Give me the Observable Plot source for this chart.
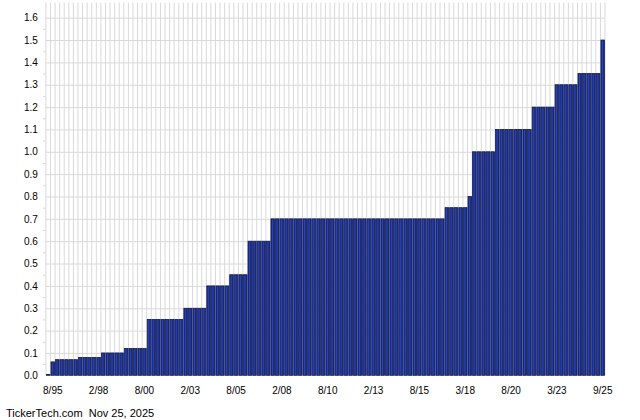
<!DOCTYPE html>
<html>
<head>
<meta charset="utf-8">
<script src="https://cdn.jsdelivr.net/npm/d3@7"></script>
<script src="https://cdn.jsdelivr.net/npm/@observablehq/plot@0.6"></script>
<style>
  html, body { margin: 0; padding: 0; background: #fff; }
  #chart svg { display: block; }
  #footer { font-family: "Liberation Sans", Arial, sans-serif; font-size: 11px; color: #000; padding-left: 6px; margin-top: 7px; white-space: pre; }
</style>
</head>
<body>
<div id="chart"></div>
<div id="footer">TickerTech.com  Nov 25, 2025</div>
<script>
// Quarterly dividend per share, 1995Q2 .. 2025Q3 (122 quarters)
const firstYear = 1995, firstQuarter = 2, quarterCount = 122;
const quarters = d3.range(quarterCount).map(i => {
  const k = (firstQuarter - 1) + i;
  return `${firstYear + Math.floor(k / 4)}Q${(k % 4) + 1}`;
});

const dividends = [
  0.004, 0.06, 0.07, 0.07,                 // 1995Q2 - 1996Q1
  0.07, 0.07, 0.07, 0.08,                  // 1996Q2 - 1997Q1
  0.08, 0.08, 0.08, 0.08,                  // 1997Q2 - 1998Q1
  0.10, 0.10, 0.10, 0.10,                  // 1998Q2 - 1999Q1
  0.10, 0.12, 0.12, 0.12,                  // 1999Q2 - 2000Q1
  0.12, 0.12, 0.25, 0.25,                  // 2000Q2 - 2001Q1
  0.25, 0.25, 0.25, 0.25,                  // 2001Q2 - 2002Q1
  0.25, 0.25, 0.30, 0.30,                  // 2002Q2 - 2003Q1
  0.30, 0.30, 0.30, 0.40,                  // 2003Q2 - 2004Q1
  0.40, 0.40, 0.40, 0.40,                  // 2004Q2 - 2005Q1
  0.45, 0.45, 0.45, 0.45,                  // 2005Q2 - 2006Q1
  0.60, 0.60, 0.60, 0.60,                  // 2006Q2 - 2007Q1
  0.60, 0.70, 0.70, 0.70,                  // 2007Q2 - 2008Q1
  0.70, 0.70, 0.70, 0.70,                  // 2008Q2 - 2009Q1
  0.70, 0.70, 0.70, 0.70,                  // 2009Q2 - 2010Q1
  0.70, 0.70, 0.70, 0.70,                  // 2010Q2 - 2011Q1
  0.70, 0.70, 0.70, 0.70,                  // 2011Q2 - 2012Q1
  0.70, 0.70, 0.70, 0.70,                  // 2012Q2 - 2013Q1
  0.70, 0.70, 0.70, 0.70,                  // 2013Q2 - 2014Q1
  0.70, 0.70, 0.70, 0.70,                  // 2014Q2 - 2015Q1
  0.70, 0.70, 0.70, 0.70,                  // 2015Q2 - 2016Q1
  0.70, 0.70, 0.70, 0.75,                  // 2016Q2 - 2017Q1
  0.75, 0.75, 0.75, 0.75,                  // 2017Q2 - 2018Q1
  0.80, 1.00, 1.00, 1.00,                  // 2018Q2 - 2019Q1
  1.00, 1.00, 1.10, 1.10,                  // 2019Q2 - 2020Q1
  1.10, 1.10, 1.10, 1.10,                  // 2020Q2 - 2021Q1
  1.10, 1.10, 1.20, 1.20,                  // 2021Q2 - 2022Q1
  1.20, 1.20, 1.20, 1.30,                  // 2022Q2 - 2023Q1
  1.30, 1.30, 1.30, 1.30,                  // 2023Q2 - 2024Q1
  1.35, 1.35, 1.35, 1.35,                  // 2024Q2 - 2025Q1
  1.35, 1.50                               // 2025Q2 - 2025Q3
];

const tickQuarters = ["1995Q3","1998Q1","2000Q3","2003Q1","2005Q3","2008Q1","2010Q3","2013Q1","2015Q3","2018Q1","2020Q3","2023Q1","2025Q3"];
const tickLabels   = ["8/95","2/98","8/00","2/03","8/05","2/08","8/10","2/13","8/15","3/18","8/20","3/23","9/25"];

const yTicks = d3.range(0, 17).map(k => k / 10);
const yMinorTicks = d3.range(0, 16).map(k => k / 10 + 0.05);
const yMax = 1.667;

const rows = quarters.map((q, i) => ({ q, i, v: dividends[i] }));
const boundaries = d3.range(0, quarters.length + 1);

const plot = Plot.plot({
  width: 640,
  height: 400,
  marginLeft: 45.4,
  marginRight: 35.5,
  marginTop: 2.7,
  marginBottom: 24.7,
  style: { fontFamily: "'Liberation Sans', Arial, sans-serif", fontSize: "10px", color: "#000", background: "#fff" },
  x: { type: "linear", domain: [0, quarters.length], axis: null, label: null },
  y: { domain: [0, yMax], axis: null, label: null },
  marks: [
    Plot.ruleX(boundaries, { x: d => d, stroke: "#d9d9d9", strokeWidth: 1 }),
    Plot.ruleY(yTicks.slice(1), { y: d => d, stroke: "#d9d9d9", strokeWidth: 1 }),
    Plot.rectY(rows, { x: "i", interval: 1, y: "v", fill: "#1a2b85", stroke: "#141d52", strokeWidth: 0.8 }),
    Plot.rectY(rows, { x: "i", interval: 1, y: "v", fill: "#2a46c0", insetLeft: 2, insetRight: 1.6, insetTop: 0.6 }),
    Plot.axisY({ ticks: yTicks, tickSize: 0, tickPadding: 8, tickFormat: d => d.toFixed(1), fill: "#000", label: null }),
    Plot.axisY({ ticks: yMinorTicks, tickSize: 2, tickFormat: () => "", stroke: "#cfcfcf", label: null }),
    Plot.axisX({
      ticks: tickQuarters.map(q => quarters.indexOf(q) + 0.5),
      tickSize: 0,
      tickPadding: 11,
      tickFormat: v => tickLabels[tickQuarters.indexOf(quarters[Math.floor(v)])],
      fill: "#000",
      label: null
    })
  ]
});
document.getElementById("chart").appendChild(plot);
</script>
</body>
</html>
